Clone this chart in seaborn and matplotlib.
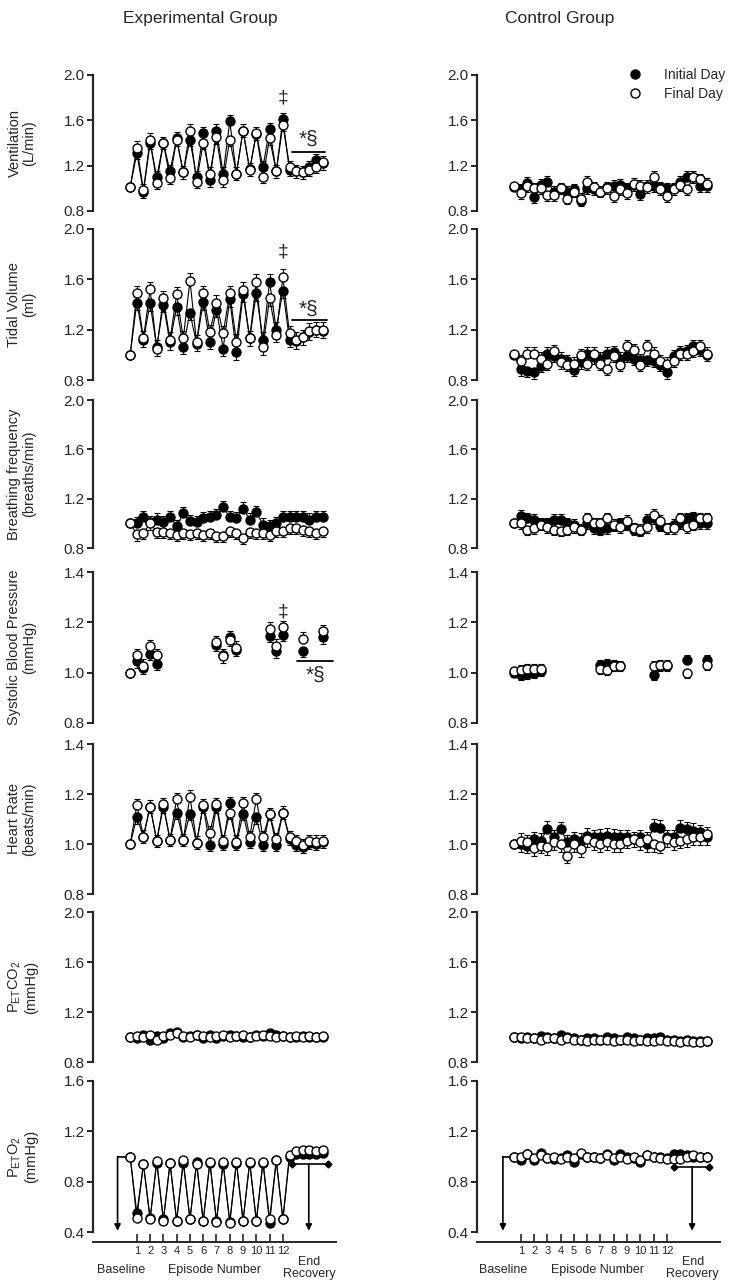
import numpy as np
import pandas as pd
import seaborn as sns
import matplotlib
matplotlib.use('Agg')
from matplotlib import pyplot as plt
from matplotlib.lines import Line2D
from matplotlib import transforms

sns.set_style('ticks')
plt.rcParams['font.family'] = ['Liberation Sans', 'DejaVu Sans']
plt.rcParams['mathtext.default'] = 'regular'

#####################
# dados (valores normalizados pela linha de base)
# posicoes: 0 = baseline, impares = hipoxia (episodios 1..12), pares = normoxia, 25..29 = recuperacao
pontos = list(range(30))
episodios = [1, 3, 5, 7, 9, 11, 13, 15, 17, 19, 21, 23]
episodio_labels = [str(i) for i in range(1, 13)]
pontos_pa = [0, 1, 2, 3, 4, 13, 14, 15, 16, 21, 22, 23, 26, 29]

# grupo experimental
exp_vent_ini = [1.01, 1.31, 0.97, 1.40, 1.10, 1.40, 1.15, 1.44, 1.14, 1.43, 1.10, 1.49, 1.07, 1.51, 1.13,
                1.59, 1.13, 1.51, 1.17, 1.48, 1.19, 1.52, 1.15, 1.61, 1.16, 1.15, 1.14, 1.19, 1.25, 1.22]
exp_vent_fin = [1.01, 1.36, 0.985, 1.43, 1.05, 1.40, 1.09, 1.43, 1.14, 1.51, 1.06, 1.40, 1.13, 1.45, 1.07,
                1.43, 1.13, 1.51, 1.16, 1.49, 1.10, 1.44, 1.15, 1.56, 1.19, 1.15, 1.14, 1.16, 1.19, 1.23]
exp_vt_ini = [1.0, 1.415, 1.12, 1.41, 1.06, 1.40, 1.10, 1.38, 1.065, 1.335, 1.09, 1.42, 1.105, 1.36, 1.05,
              1.44, 1.02, 1.48, 1.13, 1.49, 1.12, 1.58, 1.20, 1.51, 1.12, 1.11, 1.14, 1.18, 1.20, 1.19]
exp_vt_fin = [1.0, 1.49, 1.13, 1.52, 1.05, 1.45, 1.12, 1.48, 1.13, 1.59, 1.10, 1.49, 1.18, 1.415, 1.17,
              1.49, 1.105, 1.515, 1.13, 1.58, 1.06, 1.45, 1.16, 1.62, 1.17, 1.12, 1.14, 1.19, 1.20, 1.20]
exp_bf_ini = [1.0, 1.0, 1.054, 1.01, 1.03, 1.01, 1.054, 0.98, 1.08, 1.02, 1.01, 1.045, 1.054, 1.067, 1.13,
              1.05, 1.045, 1.12, 1.03, 1.09, 0.99, 0.98, 1.0, 1.054, 1.05, 1.05, 1.054, 1.03, 1.05, 1.05]
exp_bf_fin = [1.0, 0.91, 0.92, 1.0, 0.93, 0.93, 0.92, 0.905, 0.92, 0.915, 0.92, 0.905, 0.92, 0.895, 0.90,
              0.94, 0.92, 0.88, 0.93, 0.92, 0.92, 0.905, 0.94, 0.94, 0.96, 0.96, 0.95, 0.94, 0.92, 0.94]
exp_pa_ini = [1.0, 1.045, 1.02, 1.075, 1.036, 1.11, 1.07, 1.14, 1.09, 1.147, 1.085, 1.15, 1.088, 1.14]
exp_pa_fin = [1.0, 1.07, 1.028, 1.105, 1.07, 1.12, 1.065, 1.13, 1.10, 1.175, 1.107, 1.18, 1.135, 1.165]
exp_fc_ini = [1.0, 1.106, 1.03, 1.15, 1.013, 1.15, 1.017, 1.126, 1.017, 1.12, 1.006, 1.15, 0.996, 1.15, 1.0,
              1.163, 1.0, 1.12, 1.008, 1.106, 0.996, 1.12, 0.996, 1.126, 1.02, 0.996, 0.99, 1.006, 1.0, 1.01]
exp_fc_fin = [1.0, 1.155, 1.03, 1.15, 1.013, 1.16, 1.017, 1.18, 1.017, 1.19, 1.006, 1.155, 1.046, 1.16, 1.013,
              1.126, 1.01, 1.165, 1.028, 1.18, 1.028, 1.12, 1.02, 1.126, 1.028, 1.013, 0.996, 1.013, 1.01, 1.013]
exp_co2_ini = [1.0, 0.99, 1.02, 0.98, 1.01, 0.99, 1.03, 1.04, 1.0, 1.01, 1.02, 0.99, 1.02, 0.99, 1.01,
               1.02, 1.01, 1.0, 1.0, 1.02, 1.01, 1.03, 1.02, 1.01, 1.0, 1.0, 1.01, 1.0, 1.0, 1.0]
exp_co2_fin = [1.0, 1.01, 1.0, 1.02, 0.98, 1.01, 1.02, 1.03, 1.01, 1.0, 1.02, 1.01, 1.0, 1.01, 1.02,
               1.0, 1.01, 1.02, 1.0, 1.01, 1.02, 1.01, 1.0, 1.01, 1.0, 1.01, 1.0, 1.01, 1.0, 1.01]
exp_o2_ini = [1.0, 0.55, 0.94, 0.51, 0.95, 0.50, 0.95, 0.49, 0.95, 0.50, 0.96, 0.49, 0.95, 0.49, 0.94,
              0.48, 0.95, 0.49, 0.95, 0.49, 0.95, 0.47, 0.97, 0.50, 1.0, 1.02, 1.02, 1.02, 1.02, 1.03]
exp_o2_fin = [1.0, 0.51, 0.94, 0.50, 0.967, 0.49, 0.948, 0.485, 0.97, 0.50, 0.94, 0.485, 0.96, 0.48, 0.96,
              0.47, 0.96, 0.485, 0.96, 0.485, 0.96, 0.50, 0.97, 0.50, 1.015, 1.04, 1.05, 1.05, 1.04, 1.05]

# grupo controle
ctl_vent_ini = [1.01, 0.99, 1.05, 0.92, 1.03, 1.06, 0.97, 1.0, 0.97, 0.99, 0.89, 1.0, 0.99, 0.97, 1.01,
                1.02, 1.03, 1.0, 1.03, 0.95, 1.02, 1.02, 1.01, 1.0, 1.0, 1.06, 1.10, 1.10, 1.02, 1.02]
ctl_vent_fin = [1.02, 0.96, 1.02, 1.0, 1.0, 0.94, 0.94, 1.0, 0.91, 0.97, 0.91, 1.06, 1.01, 0.97, 1.0,
                0.93, 0.99, 0.96, 1.04, 1.02, 1.01, 1.10, 0.99, 0.93, 0.99, 1.03, 0.99, 1.10, 1.08, 1.04]
ctl_vt_ini = [1.0, 0.885, 0.87, 0.86, 0.91, 1.01, 0.99, 0.97, 0.95, 0.88, 0.94, 1.01, 0.98, 0.97, 1.01,
              1.02, 0.97, 0.99, 0.97, 0.96, 0.96, 0.95, 0.92, 0.86, 0.99, 1.02, 1.03, 1.07, 1.04, 1.0]
ctl_vt_fin = [1.01, 0.95, 1.01, 1.01, 0.97, 0.93, 1.03, 0.94, 0.92, 0.93, 1.0, 0.93, 1.01, 0.93, 0.89,
              0.99, 0.92, 1.07, 1.04, 0.92, 1.07, 1.01, 0.95, 0.93, 0.95, 1.01, 1.01, 1.03, 1.07, 1.01]
ctl_bf_ini = [1.0, 1.06, 1.04, 1.03, 1.0, 1.0, 1.03, 1.03, 1.0, 0.99, 0.95, 1.0, 0.96, 0.95, 0.96,
              0.98, 1.0, 0.99, 0.95, 0.94, 1.03, 1.04, 0.98, 0.96, 0.99, 1.0, 1.04, 1.05, 1.0, 1.0]
ctl_bf_fin = [1.0, 1.0, 0.95, 0.96, 0.99, 0.97, 0.95, 0.94, 0.95, 0.97, 0.95, 1.04, 1.0, 1.0, 1.04,
              0.99, 0.97, 1.02, 0.96, 0.95, 0.97, 1.07, 1.02, 0.96, 0.96, 1.04, 0.97, 0.99, 1.04, 1.04]
ctl_pa_ini = [1.0, 0.99, 0.995, 1.0, 1.008, 1.03, 1.035, 1.03, 1.025, 0.99, 1.025, 1.028, 1.05, 1.05]
ctl_pa_fin = [1.005, 1.01, 1.015, 1.015, 1.015, 1.015, 1.01, 1.025, 1.025, 1.025, 1.03, 1.03, 1.0, 1.03]
ctl_fc_ini = [1.0, 1.0, 0.993, 1.02, 1.013, 1.062, 1.027, 1.06, 1.007, 1.02, 1.013, 1.033, 1.027, 1.03, 1.033,
              1.03, 1.027, 1.027, 1.02, 1.027, 1.0, 1.07, 1.066, 1.027, 1.027, 1.066, 1.06, 1.053, 1.047, 1.027]
ctl_fc_fin = [1.0, 1.013, 1.007, 0.983, 0.993, 0.987, 1.007, 1.0, 0.953, 1.0, 0.98, 1.02, 1.007, 1.0, 1.007,
              1.0, 1.0, 1.013, 1.02, 1.007, 1.02, 1.0, 0.993, 1.02, 1.007, 1.013, 1.02, 1.027, 1.027, 1.04]
ctl_co2_ini = [1.0, 0.99, 1.0, 0.99, 1.01, 1.0, 0.99, 1.02, 1.0, 0.99, 0.98, 0.99, 0.99, 0.98, 1.0,
               0.99, 0.98, 1.0, 0.99, 0.98, 0.99, 0.99, 1.0, 0.98, 0.98, 0.97, 0.98, 0.97, 0.97, 0.97]
ctl_co2_fin = [1.0, 1.0, 0.99, 0.99, 0.98, 0.99, 0.99, 0.98, 0.99, 0.98, 0.98, 0.97, 0.98, 0.98, 0.98,
               0.97, 0.98, 0.98, 0.97, 0.98, 0.97, 0.97, 0.98, 0.97, 0.97, 0.96, 0.97, 0.96, 0.96, 0.97]
ctl_o2_ini = [1.0, 0.97, 1.02, 0.97, 1.03, 0.99, 0.98, 0.99, 1.01, 0.96, 1.02, 1.0, 1.0, 0.99, 1.02,
              0.97, 1.02, 1.0, 0.99, 0.96, 1.01, 1.0, 1.0, 0.99, 1.02, 1.02, 1.01, 1.0, 1.0, 1.0]
ctl_o2_fin = [1.0, 1.0, 1.02, 0.99, 1.01, 0.99, 1.0, 0.98, 1.0, 0.99, 1.03, 1.0, 1.0, 0.99, 1.01,
              0.99, 1.0, 0.98, 1.0, 0.97, 1.01, 1.0, 0.99, 0.98, 0.98, 0.98, 1.0, 1.01, 1.0, 1.0]

# erro padrao aproximado de cada painel (experimental, controle)
erros_exp = [0.055, 0.06, 0.05, 0.025, 0.025, 0.02, 0.015]
erros_ctl = [0.05, 0.05, 0.045, 0.02, 0.03, 0.02, 0.015]

ylabels = ['Ventilation\n(L/min)', 'Tidal Volume\n(ml)', 'Breathing frequency\n(breaths/min)',
           'Systolic Blood Pressure\n(mmHg)', 'Heart Rate\n(beats/min)',
           'P$_{ET}$CO$_2$\n(mmHg)', 'P$_{ET}$O$_2$\n(mmHg)']
ylims = [(0.8, 2.0), (0.8, 2.0), (0.8, 2.0), (0.8, 1.4), (0.8, 1.4), (0.8, 2.0), (0.4, 1.6)]
yticks = [[0.8, 1.2, 1.6, 2.0]] * 3 + [[0.8, 1.0, 1.2, 1.4]] * 2 + [[0.8, 1.2, 1.6, 2.0], [0.4, 0.8, 1.2, 1.6]]

exp_dados = [(exp_vent_ini, exp_vent_fin), (exp_vt_ini, exp_vt_fin), (exp_bf_ini, exp_bf_fin),
             (exp_pa_ini, exp_pa_fin), (exp_fc_ini, exp_fc_fin), (exp_co2_ini, exp_co2_fin),
             (exp_o2_ini, exp_o2_fin)]
ctl_dados = [(ctl_vent_ini, ctl_vent_fin), (ctl_vt_ini, ctl_vt_fin), (ctl_bf_ini, ctl_bf_fin),
             (ctl_pa_ini, ctl_pa_fin), (ctl_fc_ini, ctl_fc_fin), (ctl_co2_ini, ctl_co2_fin),
             (ctl_o2_ini, ctl_o2_fin)]

#####################
# layout em pixels (figura 740 x 1283)
W, H = 740, 1283
linhas_px = [(75, 211), (229, 380), (400, 548), (572, 723), (744, 894), (912, 1062), (1081, 1232)]
colunas_px = [(93, 336), (477, 720)]
XLIM = (-5.6, 31.0)

fig = plt.figure(figsize=(W / 100, H / 100), dpi=100)


def painel(ax, xs, ini, fin, erro, com_linha=True):
    '''desenha as duas series (dia inicial cheio, dia final vazio) de um painel'''
    df = pd.DataFrame({'x': xs, 'ini': ini, 'fin': fin})
    if com_linha:
        sns.lineplot(data=df, x='x', y='ini', ax=ax, color='black', lw=0.8, zorder=1, sort=False)
        sns.lineplot(data=df, x='x', y='fin', ax=ax, color='black', lw=0.8, zorder=1, sort=False)
    # barras de erro para um lado so (a serie de cima para cima, a de baixo para baixo)
    ini_a, fin_a = np.array(ini), np.array(fin)
    e = np.where(np.array(xs) == 0, 0.0, erro)
    cima = ini_a >= fin_a
    ax.errorbar(xs, ini_a, yerr=[np.where(cima, 0, e), np.where(cima, e, 0)], fmt='none',
                ecolor='black', elinewidth=0.8, capsize=2.5, capthick=0.8, zorder=1.5, clip_on=False)
    ax.errorbar(xs, fin_a, yerr=[np.where(cima, e, 0), np.where(cima, 0, e)], fmt='none',
                ecolor='black', elinewidth=0.8, capsize=2.5, capthick=0.8, zorder=1.5, clip_on=False)
    sns.scatterplot(data=df, x='x', y='ini', ax=ax, color='black', edgecolor='black', s=42,
                    linewidth=1, zorder=2, clip_on=False)
    sns.scatterplot(data=df, x='x', y='fin', ax=ax, color='white', edgecolor='black', s=42,
                    linewidth=1, zorder=3, clip_on=False)


eixos = {}
for c, (dados, erros) in enumerate([(exp_dados, erros_exp), (ctl_dados, erros_ctl)]):
    x0, x1 = colunas_px[c]
    for r, (top, bot) in enumerate(linhas_px):
        ax = fig.add_axes([x0 / W, 1 - bot / H, (x1 - x0) / W, (bot - top) / H])
        eixos[(r, c)] = ax
        ini, fin = dados[r]
        if r == 3:
            painel(ax, pontos_pa, ini, fin, erros[r], com_linha=False)
        else:
            painel(ax, pontos, ini, fin, erros[r])
        ax.set_xlim(XLIM)
        ax.set_ylim(ylims[r])
        ax.set_yticks(yticks[r])
        ax.set_yticklabels([f'{v:.1f}' for v in yticks[r]], fontsize=11)
        ax.set_xlabel('')
        ax.set_ylabel('')
        for s in ['top', 'right']:
            ax.spines[s].set_visible(False)
        ax.spines['left'].set_linewidth(1.6)
        ax.tick_params(axis='y', length=4, width=1.4, pad=2, direction='out')
        if r < 6:
            ax.spines['bottom'].set_visible(False)
            ax.set_xticks([])
        else:
            ax.spines['bottom'].set_position(('outward', 7))
            ax.spines['bottom'].set_linewidth(1.4)
            ax.set_xticks(episodios)
            ax.set_xticklabels(episodio_labels, fontsize=8)
            ax.tick_params(axis='x', direction='in', length=6, width=1.2, pad=3)
        ax.set_facecolor('none')

# rotulos do eixo y (so na coluna da esquerda)
for r, (top, bot) in enumerate(linhas_px):
    fig.text(22 / W, 1 - (top + bot) / 2 / H, ylabels[r], rotation=90, ha='center', va='center',
             fontsize=10.5, multialignment='center', linespacing=1.1)

# titulos
fig.text(200 / W, 1 - 18 / H, 'Experimental Group', ha='center', va='center', fontsize=12.5)
fig.text(560 / W, 1 - 18 / H, 'Control Group', ha='center', va='center', fontsize=12.5)

# marcas de significancia no grupo experimental
ax = eixos[(0, 0)]
ax.text(23, 1.795, '‡', ha='center', va='center', fontsize=14)
ax.plot([24.3, 29.4], [1.32, 1.32], color='black', lw=1.3, clip_on=False)
ax.text(26.8, 1.43, '*§', ha='center', va='center', fontsize=15)
ax = eixos[(1, 0)]
ax.text(23, 1.82, '‡', ha='center', va='center', fontsize=14)
ax.plot([24.3, 29.6], [1.28, 1.28], color='black', lw=1.3, clip_on=False)
ax.text(26.9, 1.36, '*§', ha='center', va='center', fontsize=15)
ax = eixos[(3, 0)]
ax.text(23, 1.24, '‡', ha='center', va='center', fontsize=14)
ax.plot([25.2, 30.5], [1.045, 1.045], color='black', lw=1.3, clip_on=False)
ax.text(27.9, 0.99, '*§', ha='center', va='center', fontsize=15)

# setas de baseline e fim da recuperacao no painel de PETO2
setas = [(-1.9, 24.3, 29.8, 26.9, 0.94), (-1.7, 24.0, 29.3, 26.8, 0.917)]
for c, (xb, xr0, xr1, xr, yr) in enumerate(setas):
    ax = eixos[(6, c)]
    ax.plot([0, xb], [1.0, 1.0], color='black', lw=1.2, zorder=0.5)
    ax.annotate('', xy=(xb, 0.41), xytext=(xb, 1.0),
                arrowprops=dict(arrowstyle='-|>', color='black', lw=1.2, mutation_scale=9,
                                shrinkA=0, shrinkB=0))
    ax.plot([xr0, xr1], [yr, yr], color='black', lw=1.2, marker='D', markersize=3.5, zorder=4,
            clip_on=False)
    ax.annotate('', xy=(xr, 0.41), xytext=(xr, yr),
                arrowprops=dict(arrowstyle='-|>', color='black', lw=1.2, mutation_scale=9,
                                shrinkA=0, shrinkB=0))
    trans = transforms.blended_transform_factory(ax.transData, ax.transAxes)
    xs_txt = [(-1.4, 12.7, 27.0), (-1.6, 12.6, 26.9)][c]
    ax.text(xs_txt[0], -0.25, 'Baseline', transform=trans, ha='center', va='center', fontsize=9)
    ax.text(xs_txt[1], -0.25, 'Episode Number', transform=trans, ha='center', va='center', fontsize=9)
    ax.text(xs_txt[2], -0.24, 'End\nRecovery', transform=trans, ha='center', va='center', fontsize=9,
            linespacing=1.0)

# legenda
handles = [Line2D([], [], ls='none', marker='o', markerfacecolor='black', markeredgecolor='black',
                  markersize=6.5),
           Line2D([], [], ls='none', marker='o', markerfacecolor='white', markeredgecolor='black',
                  markersize=6.5)]
fig.legend(handles, ['Initial Day', 'Final Day'], loc='upper left', bbox_to_anchor=(628 / W, 1 - 68 / H),
           frameon=False, fontsize=10, handlelength=1.0, handletextpad=1.6, labelspacing=0.35,
           borderpad=0, borderaxespad=0)

fig.savefig('out.png', dpi=100)
